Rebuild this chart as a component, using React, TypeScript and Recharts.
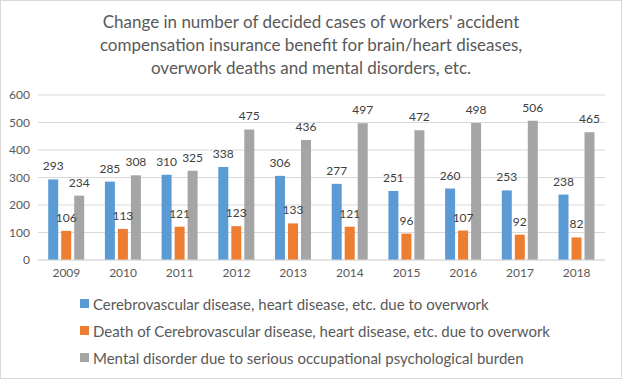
import React from "react";
import { BarChart, Bar, XAxis, YAxis, CartesianGrid, LabelList } from "recharts";

const years = ["2009", "2010", "2011", "2012", "2013", "2014", "2015", "2016", "2017", "2018"];
const cerebro = [293, 285, 310, 338, 306, 277, 251, 260, 253, 238];
const deaths = [106, 113, 121, 123, 133, 121, 96, 107, 92, 82];
const mental = [234, 308, 325, 475, 436, 497, 472, 498, 506, 465];
const yTicks = [0, 100, 200, 300, 400, 500, 600];

const seriesNames = [
  "Cerebrovascular disease, heart disease, etc. due to overwork",
  "Death of Cerebrovascular disease, heart disease, etc. due to overwork",
  "Mental disorder due to serious occupational psychological burden",
];
const colors = ["#5B9BD5", "#ED7D31", "#A5A5A5"];
const titleLines = [
  "Change in number of decided cases of workers' accident",
  "compensation insurance benefit for brain/heart diseases,",
  "overwork deaths and mental disorders, etc.",
];

const data = years.map((y, i) => ({ year: y, a: cerebro[i], b: deaths[i], c: mental[i] }));

const FONT = "Lato, 'Open Sans', sans-serif";

export default function App() {
  const labelStyle = { fill: "#404040", fontSize: 12, fontFamily: FONT };
  return (
    <div style={{ position: "absolute", left: 0, top: 0, width: 620, height: 377, border: "1px solid #d9d9d9", background: "#fff", overflow: "hidden" }}>
      <div style={{ position: "absolute", top: 9, left: 0, width: 620, textAlign: "center", fontFamily: FONT, fontSize: 17, color: "#595959", lineHeight: "23px" }}>
        {titleLines.map((l) => (
          <div key={l}>{l}</div>
        ))}
      </div>
      <div style={{ position: "absolute", left: -1, top: -1 }}>
        <BarChart width={622} height={379} data={data} margin={{ top: 95, right: 17, left: 0, bottom: 99 }} barGap={3} barCategoryGap="18%">
          <CartesianGrid vertical={false} stroke="#d9d9d9" />
          <XAxis dataKey="year" tickLine={false} axisLine={{ stroke: "#d9d9d9" }} height={20} tick={{ fill: "#595959", fontSize: 12, fontFamily: FONT }} />
          <YAxis width={38} domain={[0, 600]} ticks={yTicks} tickLine={false} axisLine={false} tick={{ fill: "#595959", fontSize: 12, fontFamily: FONT }} />
          <Bar dataKey="a" name={seriesNames[0]} fill={colors[0]} isAnimationActive={false}>
            <LabelList dataKey="a" position="top" offset={9} style={labelStyle} />
          </Bar>
          <Bar dataKey="b" name={seriesNames[1]} fill={colors[1]} isAnimationActive={false}>
            <LabelList dataKey="b" position="top" offset={9} style={labelStyle} />
          </Bar>
          <Bar dataKey="c" name={seriesNames[2]} fill={colors[2]} isAnimationActive={false}>
            <LabelList dataKey="c" position="top" offset={9} style={labelStyle} />
          </Bar>
        </BarChart>
      </div>
      <div style={{ position: "absolute", left: 79, top: 289, fontFamily: FONT, fontSize: 15, color: "#595959" }}>
        {seriesNames.map((n, i) => (
          <div key={n} style={{ display: "flex", alignItems: "center", height: 27 }}>
            <span style={{ width: 9, height: 9, background: colors[i], display: "inline-block", marginRight: 4 }} />
            <span>{n}</span>
          </div>
        ))}
      </div>
    </div>
  );
}
